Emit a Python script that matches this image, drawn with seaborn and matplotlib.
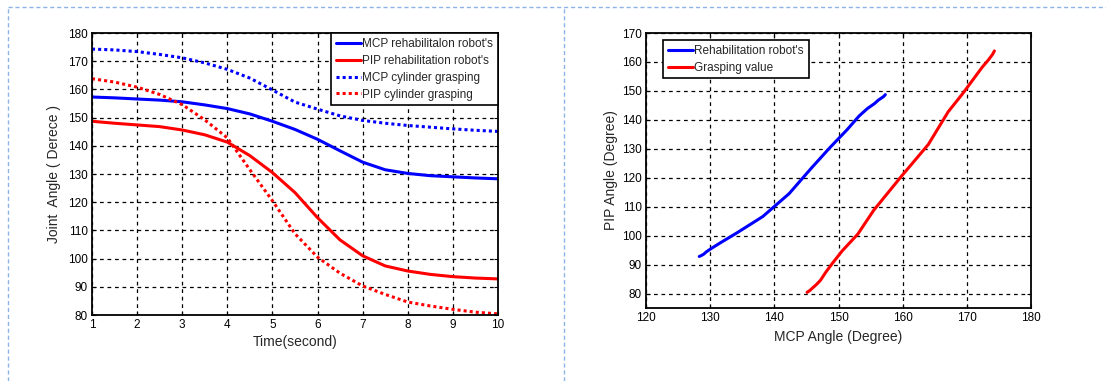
import numpy as np
import pandas as pd
import matplotlib
matplotlib.use("Agg")
import matplotlib.pyplot as plt
from matplotlib.lines import Line2D
import seaborn as sns

# Time axis (seconds)
time_s = [1, 1.5, 2, 2.5, 3, 3.5, 4, 4.5, 5, 5.5, 6, 6.5, 7, 7.5, 8, 8.5, 9, 9.5, 10]

# Joint angles (degrees) for the rehabilitation robot
mcp_rehab = [157.3, 157.0, 156.6, 156.2, 155.6, 154.5, 153.2, 151.3, 148.7, 145.8,
             142.3, 138.2, 134.2, 131.5, 130.2, 129.4, 129.0, 128.6, 128.3]
pip_rehab = [148.7, 148.0, 147.4, 146.8, 145.6, 143.9, 141.3, 136.5, 130.5, 123.4,
             114.5, 106.6, 101.0, 97.4, 95.6, 94.4, 93.6, 93.1, 92.8]

# Joint angles (degrees) measured during cylinder grasping
mcp_cyl = [174.3, 174.0, 173.4, 172.4, 171.2, 169.4, 167.1, 164.0, 159.8, 155.5,
           153.0, 150.6, 149.0, 148.0, 147.2, 146.6, 146.0, 145.5, 145.1]
pip_cyl = [163.8, 162.6, 160.8, 158.2, 154.6, 149.2, 142.8, 131.5, 120.5, 108.8,
           100.5, 94.8, 90.3, 87.3, 84.6, 83.2, 82.0, 81.0, 80.4]

left_labels = ["MCP rehabilitalon robot's", "PIP rehabilitation robot's",
               "MCP cylinder grasping", "PIP cylinder grasping"]
right_labels = ["Rehabilitation robot's", "Grasping value"]

left_xticks = list(range(1, 11))
left_yticks = list(range(80, 181, 10))
right_xticks = list(range(120, 181, 10))
right_yticks = list(range(80, 171, 10))

BLUE = "#0000ff"
RED = "#ff0000"
DOTS = (0, (1, 1))

sns.set_theme(style="white")
plt.rcParams["font.family"] = ["Liberation Sans", "DejaVu Sans"]
plt.rcParams["axes.edgecolor"] = "black"
plt.rcParams["axes.linewidth"] = 1.3

W, H = 1106, 381
fig = plt.figure(figsize=(W / 100, H / 100), dpi=100)
fig.patch.set_facecolor("white")

ax1 = fig.add_axes([92 / W, 1 - 315 / H, (498 - 92) / W, (315 - 33) / H])
ax2 = fig.add_axes([646 / W, 1 - 308 / H, (1031 - 646) / W, (308 - 33) / H])


def style_axes(ax):
    ax.set_axisbelow(True)
    ax.grid(True, color="black", linestyle=(0, (3, 3)), linewidth=0.9)
    ax.tick_params(direction="in", length=3, width=0.8, colors="black",
                   labelsize=8.5, pad=3, bottom=True, left=True, top=True, right=True,
                   labeltop=False, labelright=False)
    for sp in ax.spines.values():
        sp.set_visible(True)
        sp.set_color("black")
        sp.set_linewidth(1.3)


legend_kw = dict(borderaxespad=0, fontsize=8.5, handlelength=2.1, handletextpad=0.15,
                 labelspacing=0.42, borderpad=0.4, fancybox=False, framealpha=1,
                 edgecolor="black")

# Left panel: joint angle versus time
df = pd.DataFrame({
    "time": time_s * 4,
    "angle": mcp_rehab + pip_rehab + mcp_cyl + pip_cyl,
    "series": sum([[lab] * len(time_s) for lab in left_labels], []),
})
left_styles = [(BLUE, "-"), (RED, "-"), (BLUE, DOTS), (RED, DOTS)]
for lab, (col, ls) in zip(left_labels, left_styles):
    sub = df[df["series"] == lab]
    sns.lineplot(data=sub, x="time", y="angle", ax=ax1, color=col, linestyle=ls,
                 linewidth=2.2, label=lab, legend=False, estimator=None, sort=False)

ax1.set_xlim(1, 10)
ax1.set_ylim(80, 180)
ax1.set_xticks(left_xticks)
ax1.set_yticks(left_yticks)
style_axes(ax1)
ax1.set_xlabel("Time(second)", fontsize=10, labelpad=3)
ax1.set_ylabel("Joint  Angle ( Derece )", fontsize=10, labelpad=5)
leg1 = ax1.legend(loc="upper right", bbox_to_anchor=(1.0, 1.0), **legend_kw)
leg1.get_frame().set_linewidth(1.2)

# Right panel: PIP angle versus MCP angle
pairs = pd.DataFrame({
    "mcp": mcp_rehab + mcp_cyl,
    "pip": pip_rehab + pip_cyl,
    "series": [right_labels[0]] * len(mcp_rehab) + [right_labels[1]] * len(mcp_cyl),
})
for lab, col in zip(right_labels, [BLUE, RED]):
    sub = pairs[pairs["series"] == lab]
    sns.lineplot(data=sub, x="mcp", y="pip", ax=ax2, color=col, linewidth=2.2,
                 label=lab, legend=False, estimator=None, sort=False)

ax2.set_xlim(120, 180)
ax2.set_ylim(75, 170)
ax2.set_xticks(right_xticks)
ax2.set_yticks(right_yticks)
style_axes(ax2)
ax2.set_xlabel("MCP Angle (Degree)", fontsize=10, labelpad=4)
ax2.set_ylabel("PIP Angle (Degree)", fontsize=10, labelpad=3)
leg2 = ax2.legend(loc="upper left", bbox_to_anchor=(17 / 385, 1 - 7 / 275), **legend_kw)
leg2.get_frame().set_linewidth(1.2)

# Dashed panel frames
frame_kw = dict(color="#8db4ea", linewidth=1.0, linestyle=(0, (3, 2)),
                transform=fig.transFigure)
fig.add_artist(Line2D([8 / W, 1.0], [1 - 7 / H, 1 - 7 / H], **frame_kw))
fig.add_artist(Line2D([8 / W, 8 / W], [0, 1 - 7 / H], **frame_kw))
fig.add_artist(Line2D([564 / W, 564 / W], [0, 1 - 7 / H], **frame_kw))

fig.savefig("out.png", dpi=100, facecolor="white")
